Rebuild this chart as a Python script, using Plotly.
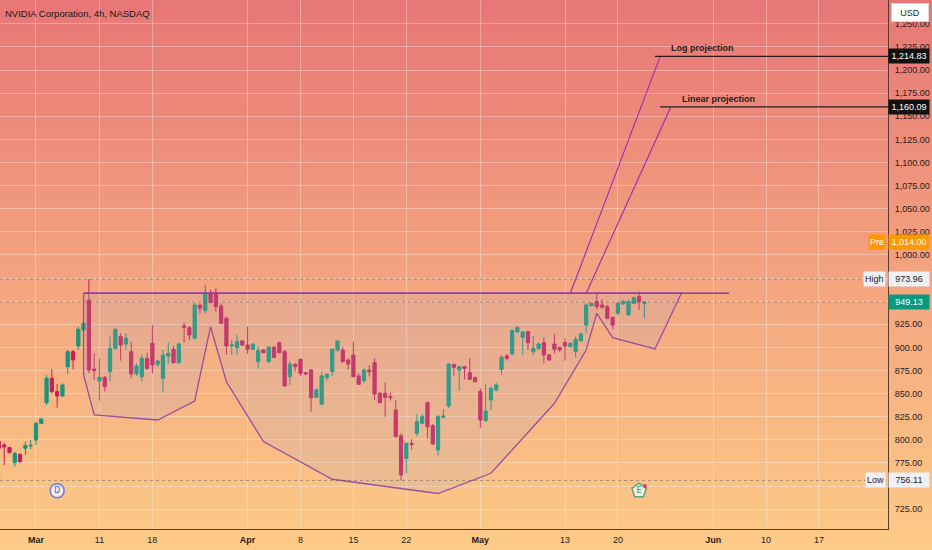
import base64

import pandas as pd
import plotly.graph_objects as go

# NVDA 4h candles, regular session only -> two bars per trading day
holidays = ["2024-03-29", "2024-05-27", "2024-06-19"]
session_bars = ["09:30", "13:30"]
first_bar = "2024-02-26 13:30"

opens = [798.1, 794.5, 791.6, 775.4, 784.4, 790.9, 793.4,
         799.9, 817.9, 840.3, 866.6, 852.2, 847.5, 879.2, 895.4, 901.6, 918.9,
         951.3, 876.7, 863.7, 867.7, 873.8, 899.0, 911.7, 903.7, 895.4, 871.3,
         868.4, 888.2, 904.4, 881.7, 866.6, 890.7, 898.0, 883.5, 923.2, 921.4,
         909.9, 945.9, 939.8, 958.5, 958.5, 944.8, 931.5, 901.6, 899.8, 907.0,
         902.6, 898.0, 884.6, 897.2, 884.6, 900.1, 905.2, 895.4, 868.4, 881.7,
         887.1, 872.7, 875.6, 846.0, 838.5, 867.7, 873.8, 897.2, 897.2, 886.4,
         891.8, 869.1, 864.1, 875.6, 883.5, 850.4, 850.4, 846.7, 832.3, 804.6,
         780.0, 796.3, 807.1, 817.9, 840.3, 815.4, 789.1, 824.4, 836.6, 881.7,
         875.6, 879.2, 872.7, 867.3, 852.2, 820.8, 843.1, 854.0, 876.3, 890.7,
         892.9, 916.7, 910.9, 917.1, 895.4, 899.0, 905.2, 891.8, 903.7, 899.8,
         905.2, 900.8, 895.4, 907.3, 924.3, 945.2, 949.5, 945.9, 944.1, 932.6,
         936.9, 947.0, 935.1, 947.7, 954.9, 947.7]
highs = [799.9, 797.0, 792.6, 787.2, 785.4, 798.1, 799.9,
         819.7, 823.3, 870.2, 876.7, 860.5, 861.2, 897.2, 897.2, 922.5, 927.9,
         973.96, 893.6, 888.2, 869.1, 911.7, 920.7, 915.3, 915.3, 906.2, 882.8,
         891.8, 894.3, 924.3, 887.1, 897.2, 905.2, 901.6, 905.2, 926.8, 923.2,
         948.4, 947.7, 967.5, 962.1, 963.9, 947.7, 933.3, 908.0, 913.5, 908.0,
         922.5, 904.4, 900.8, 898.0, 901.6, 901.6, 906.2, 897.2, 884.6, 883.5,
         888.2, 873.8, 876.7, 855.8, 873.8, 872.0, 899.0, 908.0, 900.1, 888.2,
         906.2, 872.0, 877.4, 881.0, 888.2, 852.2, 861.9, 851.1, 843.1, 807.1,
         797.3, 800.6, 828.0, 828.0, 841.3, 817.2, 826.9, 833.0, 882.8, 881.7,
         879.9, 879.9, 888.2, 868.4, 855.8, 860.1, 857.6, 861.9, 891.8, 892.9,
         919.6, 922.5, 917.8, 918.1, 912.4, 905.2, 910.9, 892.9, 914.5, 900.8,
         909.9, 905.5, 911.7, 916.0, 947.7, 948.4, 958.5, 952.0, 945.9, 933.3,
         949.5, 951.3, 952.0, 954.9, 960.3, 949.5]
lows = [789.0, 772.8, 785.4, 771.0, 775.4, 783.6, 789.8,
        794.5, 817.2, 837.7, 850.4, 834.9, 846.7, 871.3, 876.3, 897.2, 917.1,
        872.0, 864.8, 842.4, 852.2, 863.0, 897.2, 885.7, 897.2, 866.6, 869.1,
        863.0, 875.6, 872.0, 879.2, 851.1, 882.8, 882.8, 882.8, 905.2, 908.0,
        908.8, 936.9, 936.9, 947.7, 938.7, 925.4, 891.8, 891.8, 891.8, 901.6,
        892.9, 897.2, 877.0, 893.6, 883.5, 888.2, 893.6, 857.6, 859.4, 873.8,
        869.1, 870.2, 830.5, 844.9, 837.7, 864.0, 869.1, 895.4, 883.5, 875.6,
        867.7, 859.4, 861.2, 868.4, 843.1, 839.5, 825.1, 842.4, 802.8, 756.11,
        763.8, 789.1, 803.5, 817.2, 801.7, 794.5, 782.9, 823.3, 834.1, 869.1,
        853.2, 865.5, 864.8, 862.3, 813.2, 819.7, 832.3, 852.2, 870.2, 885.7,
        891.8, 916.0, 891.8, 897.2, 891.8, 897.2, 882.8, 885.7, 893.6, 895.4,
        885.7, 900.1, 889.3, 906.2, 916.0, 944.1, 941.2, 942.3, 930.4, 919.6,
        935.1, 945.9, 934.4, 947.0, 940.5, 931.5]
closes = [790.9, 792.3, 786.2, 785.4, 776.4, 793.7, 794.1,
          817.9, 822.6, 866.6, 852.2, 847.5, 859.4, 895.4, 886.4, 919.6, 926.1,
          875.6, 874.9, 867.7, 857.6, 899.0, 919.6, 902.6, 909.9, 871.3, 879.9,
          888.2, 877.4, 881.0, 885.3, 891.8, 893.6, 883.5, 903.7, 921.8, 913.5,
          945.9, 942.3, 958.5, 948.8, 944.1, 926.1, 901.6, 902.6, 906.2, 902.6,
          898.0, 903.7, 896.5, 894.3, 900.1, 889.3, 894.3, 858.3, 882.1, 879.2,
          872.0, 871.3, 845.7, 854.0, 869.1, 870.9, 898.0, 907.0, 884.6, 882.1,
          868.4, 860.1, 875.6, 873.8, 849.6, 840.3, 846.0, 845.7, 803.5, 762.0,
          796.3, 795.2, 819.7, 825.1, 814.3, 795.5, 825.1, 825.8, 882.1, 878.5,
          879.2, 877.4, 865.5, 863.0, 821.5, 831.2, 855.8, 859.4, 889.3, 888.2,
          918.1, 921.8, 916.7, 905.2, 899.0, 903.7, 891.8, 886.4, 898.0, 897.2,
          901.6, 904.4, 908.8, 914.5, 945.9, 947.7, 944.1, 943.4, 931.5, 924.3,
          947.7, 949.5, 949.5, 953.8, 949.5, 949.13]

tick_bars = ["2024-03-01 09:30", "2024-03-11 09:30", "2024-03-18 09:30",
             "2024-04-01 09:30", "2024-04-08 09:30", "2024-04-15 09:30",
             "2024-04-22 09:30", "2024-05-01 09:30", "2024-05-13 09:30",
             "2024-05-20 09:30", "2024-06-03 09:30", "2024-06-10 09:30",
             "2024-06-17 09:30"]
tick_labels = ["<b>Mar</b>", "11", "18", "<b>Apr</b>", "8", "15", "22",
               "<b>May</b>", "13", "20", "<b>Jun</b>", "10", "17"]
# price scale labels (750 / 950 / 975 sit under the price tags)
price_ticks = [725, 775, 800, 825, 850, 875, 900, 925, 1000, 1025, 1050, 1075,
               1100, 1125, 1150, 1175, 1200, 1225, 1250]
grid_prices = list(range(725, 1275, 25))

# cup & handle drawing
cup_bars = ["2024-03-07 13:30", "2024-03-07 13:30", "2024-03-08 13:30",
            "2024-03-18 13:30", "2024-03-22 09:30", "2024-03-25 13:30",
            "2024-03-27 09:30", "2024-04-02 13:30", "2024-04-11 09:30",
            "2024-04-25 09:30", "2024-05-02 09:30", "2024-05-10 09:30",
            "2024-05-15 09:30", "2024-05-16 09:30", "2024-05-17 13:30",
            "2024-05-23 13:30", "2024-05-29 09:30"]
cup_prices = [958.6, 870.2, 826.9, 821.5, 842.1, 922.4, 862.9, 798.1, 757.4,
              742.0, 763.9, 839.6, 897.2, 936.9, 910.5, 898.3, 958.6]
neck_bars = ["2024-03-07 13:30", "2024-06-04 13:30"]
neck_price = 958.6

proj_names = ["Log projection", "Linear projection"]
proj_start_bars = ["2024-05-13 13:30", "2024-05-15 09:30"]
proj_end_bars = ["2024-05-24 09:30", "2024-05-28 09:30"]
proj_targets = [1214.83, 1160.09]
ray_bars = ["2024-05-23 13:30", "2024-05-24 09:30"]
ray_label_bars = ["2024-05-31 09:30", "2024-06-03 13:30"]

event_bars = ["2024-03-05 09:30", "2024-05-22 09:30"]
event_labels = ["D", "E"]

high_price = 973.96
low_price = 756.11
pre_price = 1014.00

# bar calendar (TradingView style: no gaps on weekends/holidays)
days = [d for d in pd.bdate_range("2024-02-26", "2024-06-28")
        if d.strftime("%Y-%m-%d") not in holidays]
bars = [f"{d:%Y-%m-%d} {t}" for d in days for t in session_bars]
pos = {b: k for k, b in enumerate(bars)}
bar_x = list(range(pos[first_bar], pos[first_bar] + len(opens)))

x_range = [1.2, 169.05]
y_range = [703.6, 1275.8]

UP = "#14977a"
DOWN = "#c81e58"
PURPLE = "#8e3bb8"
GRID = "rgba(255,255,255,0.32)"
AXIS = "#5a3a30"
TXT = "#2a1c1c"
FONT = "Liberation Sans, Arial, sans-serif"

svg = ('<svg xmlns="http://www.w3.org/2000/svg" width="932" height="550">'
       '<defs><linearGradient id="g" x1="0" y1="0" x2="0" y2="1">'
       '<stop offset="0" stop-color="#e77676"/>'
       '<stop offset="0.5" stop-color="#f3a47f"/>'
       '<stop offset="1" stop-color="#fdcb87"/>'
       '</linearGradient></defs>'
       '<rect width="932" height="550" fill="url(#g)"/></svg>')
bg_src = "data:image/svg+xml;base64," + base64.b64encode(svg.encode()).decode()

fig = go.Figure()

# cup outline with light fill
cx = [pos[b] for b in cup_bars] + [pos[cup_bars[0]]]
cy = cup_prices + [cup_prices[0]]
fig.add_trace(go.Scatter(x=cx, y=cy, mode="lines", fill="toself",
                         fillcolor="rgba(180,170,200,0.2)",
                         line=dict(color="rgba(140,60,160,0.85)", width=1.3),
                         hoverinfo="skip"))

# dotted high / last / low lines
for p in [high_price, closes[-1], low_price]:
    fig.add_trace(go.Scatter(x=x_range, y=[p, p], mode="lines",
                             line=dict(color="rgba(90,80,80,0.5)", width=1, dash="dot"),
                             hoverinfo="skip"))

fig.add_trace(go.Candlestick(
    x=bar_x, open=opens, high=highs, low=lows, close=closes,
    increasing=dict(line=dict(color=UP, width=1), fillcolor=UP),
    decreasing=dict(line=dict(color=DOWN, width=1), fillcolor=DOWN),
    hoverinfo="skip"))

# neckline
fig.add_trace(go.Scatter(x=[pos[b] for b in neck_bars], y=[neck_price, neck_price],
                         mode="lines", line=dict(color=PURPLE, width=1.6),
                         hoverinfo="skip"))

# projections
for k in range(len(proj_names)):
    fig.add_trace(go.Scatter(x=[pos[proj_start_bars[k]], pos[proj_end_bars[k]]],
                             y=[neck_price, proj_targets[k]], mode="lines",
                             line=dict(color="#9c2ab0", width=1.1), hoverinfo="skip"))
    fig.add_trace(go.Scatter(x=[pos[ray_bars[k]], x_range[1]],
                             y=[proj_targets[k], proj_targets[k]], mode="lines",
                             line=dict(color="#2a1a1a", width=1.2), hoverinfo="skip"))

# event badges (dividend, earnings)
event_row = 745
fig.add_trace(go.Scatter(
    x=[pos[b] for b in event_bars], y=[event_row] * len(event_bars),
    mode="markers+text", text=event_labels, textposition="middle center",
    textfont=dict(family="DejaVu Sans", size=8, color=["#2962ff", "#14977a"]),
    marker=dict(symbol=["circle", "pentagon"], size=[14, 15], color="white",
                line=dict(color=["#2962ff", "#14977a"], width=1.5)),
    hoverinfo="skip"))
fig.add_trace(go.Scatter(x=[pos[event_bars[1]] + 1.1], y=[event_row + 5],
                         mode="markers", marker=dict(size=4, color="#f23645"),
                         hoverinfo="skip"))

ann = []
ann.append(dict(text="NVIDIA Corporation, 4h, NASDAQ", xref="paper", yref="paper",
                x=0, y=1, xanchor="left", yanchor="top", xshift=3, yshift=-6,
                showarrow=False, font=dict(family=FONT, size=9.5, color="#1e1414")))
for k in range(len(proj_names)):
    ann.append(dict(text="<b>" + proj_names[k] + "</b>", x=pos[ray_label_bars[k]],
                    y=proj_targets[k], xanchor="center", yanchor="bottom", yshift=1,
                    showarrow=False, font=dict(family=FONT, size=9, color=TXT)))


def price_tag(value, bg, fg):
    return dict(text=f"{value:,.2f}", xref="paper", x=1, xanchor="left", xshift=0,
                y=value, yref="y", showarrow=False, align="center",
                bgcolor=bg, font=dict(family=FONT, size=9, color=fg),
                width=38, height=12, borderpad=1)


def side_tag(text, y, bg, fg):
    return dict(text=text, xref="paper", x=1, xanchor="right", xshift=-2, y=y,
                yref="y", showarrow=False, bgcolor=bg,
                font=dict(family=FONT, size=9, color=fg), height=12, borderpad=1)


for t in proj_targets:
    ann.append(price_tag(t, "#111111", "white"))
ann.append(price_tag(pre_price, "#ff9800", "white"))
ann.append(side_tag("Pre", pre_price, "#ff9800", "white"))
ann.append(price_tag(high_price, "#eef0f6", TXT))
ann.append(side_tag("High", high_price, "#eef0f6", TXT))
ann.append(price_tag(closes[-1], "#089981", "white"))
ann.append(price_tag(low_price, "#eef0f6", TXT))
ann.append(side_tag("Low", low_price, "#eef0f6", TXT))
ann.append(dict(text="USD", xref="paper", yref="paper", x=1, y=1, xanchor="left",
                yanchor="top", xshift=3, yshift=-3, showarrow=False, bgcolor="white",
                bordercolor="#d8d8d8", borderwidth=1, width=34, height=15,
                font=dict(family=FONT, size=9, color=TXT)))

fig.update_layout(
    width=932, height=550,
    margin=dict(l=0, r=44, t=0, b=21),
    paper_bgcolor="#f5ad82", plot_bgcolor="rgba(0,0,0,0)",
    showlegend=False,
    boxgap=0.22, boxgroupgap=0.22,
    images=[dict(source=bg_src, xref="paper", yref="paper", x=0, y=1,
                 sizex=932 / 888, sizey=550 / 529, xanchor="left", yanchor="top",
                 sizing="stretch", layer="below")],
    annotations=ann,
    xaxis=dict(range=x_range, tickvals=[pos[b] for b in tick_bars], ticktext=tick_labels,
               showgrid=True, gridcolor=GRID, gridwidth=1, zeroline=False,
               showline=True, linecolor=AXIS, linewidth=1, ticks="",
               ticklabelstandoff=2, rangeslider=dict(visible=False),
               tickfont=dict(family=FONT, size=9, color=TXT)),
    yaxis=dict(side="right", range=y_range, tickvals=price_ticks, tickformat=",.2f",
               showgrid=False, zeroline=False,
               showline=True, linecolor=AXIS, linewidth=1, ticks="",
               ticklabelstandoff=4,
               tickfont=dict(family=FONT, size=9, color=TXT)),
    # grid kept on its own overlaid axis so hidden labels keep their gridline
    yaxis2=dict(overlaying="y", range=y_range, tickvals=grid_prices, showticklabels=False,
                showgrid=True, gridcolor=GRID, gridwidth=1, zeroline=False),
)
# dummy trace to activate the grid axis
fig.add_trace(go.Scatter(x=[None], y=[None], yaxis="y2", hoverinfo="skip"))

fig.write_html("out.html", config={"displayModeBar": False},
               post_script="document.body.style.margin='0px';")
